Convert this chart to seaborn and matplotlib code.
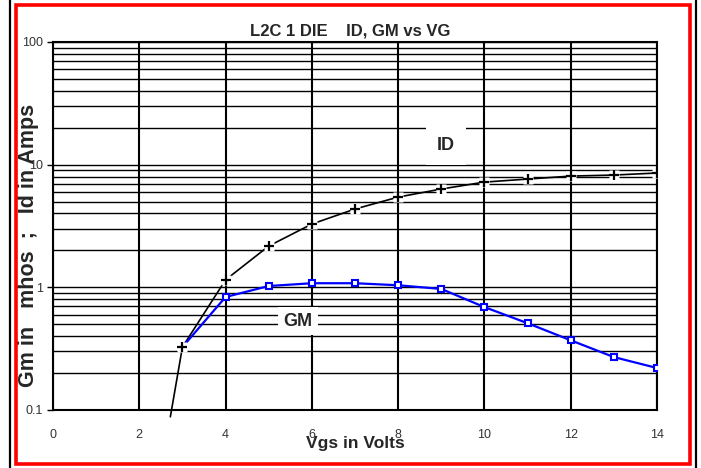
import matplotlib
matplotlib.use("Agg")
import matplotlib.pyplot as plt
import matplotlib.ticker as mticker
from matplotlib.patches import Rectangle
from matplotlib.lines import Line2D
import numpy as np
import pandas as pd
import seaborn as sns

vgs = [3, 4, 5, 6, 7, 8, 9, 10, 11, 12, 13, 14]
id_amps = [0.326, 1.15, 2.17, 3.28, 4.35, 5.44, 6.33, 7.21, 7.63, 8.07, 8.23, 8.55]
gm_mhos = [0.326, 0.834, 1.025, 1.08, 1.08, 1.04, 0.97, 0.69, 0.51, 0.37, 0.27, 0.22]
# ID curve runs off the bottom of the log axis just below 3 V
id_tail_x = [2.72, 3]
id_tail_y = [0.088, 0.326]

x_ticks = [0, 2, 4, 6, 8, 10, 12, 14]
y_major = [0.1, 1, 10, 100]
y_major_labels = ["0.1", "1", "10", "100"]

sns.set_theme(style="white")
plt.rcParams["font.family"] = ["Liberation Sans", "DejaVu Sans"]

fig = plt.figure(figsize=(7.01, 4.68), dpi=100)
ax = fig.add_axes([53 / 701, 58 / 468, 604 / 701, 368 / 468])

ax.set_yscale("log")
ax.set_xlim(0, 14)
ax.set_ylim(0.1, 100)

# grid: every minor decade step horizontally, every 2 V vertically
ax.set_xticks(x_ticks)
ax.yaxis.set_major_locator(mticker.FixedLocator(y_major))
ax.yaxis.set_major_formatter(mticker.FixedFormatter(y_major_labels))
ax.yaxis.set_minor_locator(mticker.LogLocator(base=10, subs=np.arange(2, 10)))
ax.yaxis.set_minor_formatter(mticker.NullFormatter())
ax.grid(True, axis="y", which="both", color="black", lw=1.0, zorder=1)
ax.grid(True, axis="x", which="major", color="black", lw=1.5, zorder=1)
ax.set_axisbelow(True)

ax.tick_params(axis="y", which="major", direction="out", length=4, width=1,
               color="black", labelsize=9, labelcolor="#333333", pad=3, left=True)
ax.tick_params(axis="y", which="minor", length=0)
ax.tick_params(axis="x", length=0, labelsize=9, labelcolor="#333333", pad=14)

for side in ["left", "bottom", "top", "right"]:
    ax.spines[side].set_color("black")
    ax.spines[side].set_linewidth(1.5)

# ID curve (black, + markers on white backing)
ax.plot(id_tail_x, id_tail_y, color="black", lw=1.2, clip_on=False, zorder=3)
sns.lineplot(x=vgs, y=id_amps, ax=ax, color="black", lw=1.2, zorder=3)
ax.plot(vgs, id_amps, ls="none", marker="s", ms=6.5, mfc="white", mec="none", zorder=4)
ax.plot(vgs, id_amps, ls="none", marker="+", ms=7, mec="black", mew=1.6, zorder=5)

# GM curve (blue, hollow squares)
gm_x = vgs[1:]
gm_y = gm_mhos[1:]
sns.lineplot(x=vgs, y=gm_mhos, ax=ax, color="#0000ff", lw=1.6, zorder=3)
ax.plot(gm_x, gm_y, ls="none", marker="s", ms=5, mfc="white", mec="#0000ff", mew=1.5, zorder=4)

ax.text(9.11, 14.4, "ID", ha="center", va="center", fontsize=13, fontweight="bold",
        family=["Liberation Sans Narrow", "Liberation Sans"], zorder=6,
        bbox=dict(facecolor="white", edgecolor="none", pad=8))
ax.text(5.68, 0.53, "GM", ha="center", va="center", fontsize=13, fontweight="bold",
        family=["Liberation Sans Narrow", "Liberation Sans"], zorder=6,
        bbox=dict(facecolor="white", edgecolor="none", pad=4))

ax.set_xlabel("Vgs in Volts", fontsize=12.5, fontweight="bold")
ax.xaxis.label.set_va("center")
ax.xaxis.set_label_coords(0.5, -0.09)
ax.set_ylabel("Gm in   mhos  ;   Id in Amps", fontsize=15.5, fontweight="bold")
ax.yaxis.label.set_va("center")
ax.yaxis.set_label_coords(-0.04, 0.448)

fig.text(350 / 701, 1 - 31 / 468, "L2C 1 DIE    ID, GM vs VG", ha="center", va="center",
         fontsize=12, fontweight="bold")

# outer frame: red box plus thin black side rules
fig.add_artist(Rectangle((16 / 701, 4.5 / 468), 674 / 701, 458.5 / 468, transform=fig.transFigure,
                         fill=False, edgecolor="red", lw=2.6))
fig.add_artist(Line2D([10 / 701, 10 / 701], [0, 1], transform=fig.transFigure, color="black", lw=1.6))
fig.add_artist(Line2D([696 / 701, 696 / 701], [0, 1], transform=fig.transFigure, color="black", lw=1.6))

fig.savefig("out.png", dpi=100, facecolor="white")
